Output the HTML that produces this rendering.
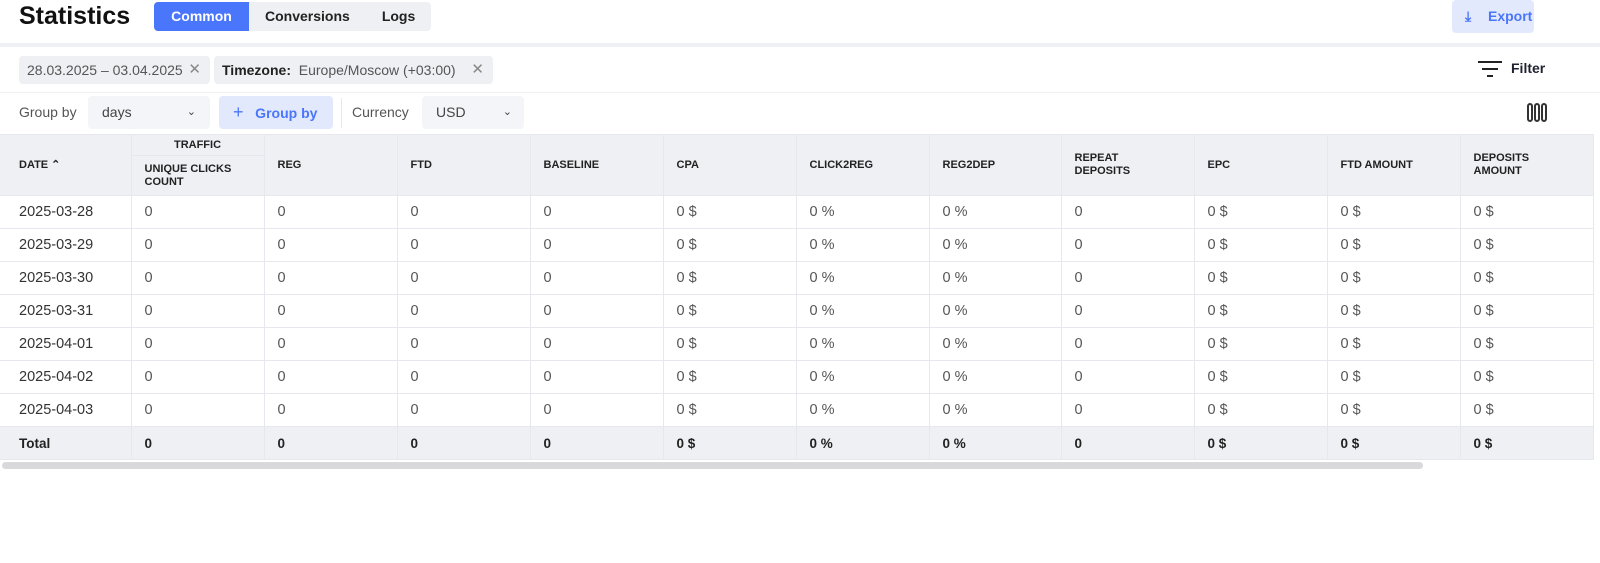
<!DOCTYPE html>
<html><head><meta charset="utf-8"><style>
*{box-sizing:border-box;margin:0;padding:0}
body{width:1600px;height:563px;background:#fff;font-family:"Liberation Sans",sans-serif;color:#1f2230;position:relative;overflow:hidden}
.abs{position:absolute}
.title{left:19px;top:2px;font-size:25px;font-weight:bold;color:#111}
.tabs{left:154px;top:2px;height:29px;display:flex;background:#eef0f4;border-radius:4px;overflow:hidden;font-size:14px;font-weight:bold}
.tabs div{padding:0 16px;line-height:29px;color:#222}
.tabs .on{background:#4a76fb;color:#fff;width:95px;text-align:center;padding:0}
.export{left:1452px;top:0;width:82px;height:33px;background:#e3e9fd;border-radius:4px;color:#4a76fb;font-size:14px;font-weight:bold;line-height:33px;padding-left:36px}
.band{left:0;top:43px;width:1600px;height:4px;background:#eef0f5}
.chip{top:56px;height:28px;background:#eef0f4;border-radius:4px;font-size:14px;line-height:28px;padding-left:8px;color:#555}
.x{color:#888;position:absolute;right:9px;top:0;font-size:15px}
.sep{left:0;top:92px;width:1600px;height:1px;background:#f0f1f4}
.lbl{font-size:14px;color:#555;line-height:33px;top:96px}
.sel{top:96px;height:33px;background:#f4f5f8;border-radius:4px;font-size:14px;line-height:33px;padding-left:14px;color:#444}
table{position:absolute;left:0;top:134px;border-collapse:collapse;table-layout:fixed;width:1593px;font-size:14.5px}
td,th{border:1px solid #e6e8ee;text-align:left;padding-left:13px;font-weight:normal;color:#555}
th{background:#eef0f4;font-size:11px;font-weight:bold;color:#222;line-height:13px}
tr.r td{height:33px}
tr.r td:first-child{padding-left:19px;color:#333}
tr.t td{background:#eef0f4;font-weight:bold;color:#222;height:33px;font-size:13.5px}
tr.t td:first-child{padding-left:19px}
td:first-child,th:first-child{border-left:none}
</style></head><body>
<div class="abs title">Statistics</div>
<div class="abs tabs"><div class="on">Common</div><div>Conversions</div><div>Logs</div></div>
<div class="abs export"><span style="position:absolute;left:13px;top:0">⤓</span>Export</div>
<div class="abs band"></div>
<div class="abs chip" style="left:19px;width:191px">28.03.2025 – 03.04.2025<span class="x">✕</span></div>
<div class="abs chip" style="left:214px;width:279px"><b style="color:#222">Timezone:</b>&nbsp; Europe/Moscow (+03:00)<span class="x">✕</span></div>
<div class="abs" style="left:1478px;top:60px;width:24px;height:20px">
<div class="abs" style="left:0;top:1px;width:24px;height:2px;background:#222"></div>
<div class="abs" style="left:4px;top:8px;width:16px;height:2px;background:#222"></div>
<div class="abs" style="left:9px;top:15px;width:6px;height:2px;background:#222"></div></div>
<div class="abs" style="left:1511px;top:60px;font-size:14px;font-weight:bold">Filter</div>
<div class="abs sep"></div>
<div class="abs lbl" style="left:19px">Group by</div>
<div class="abs sel" style="left:88px;width:122px">days<span class="abs" style="right:14px;top:0;font-size:11px">&#8964;</span></div>
<div class="abs" style="left:219px;top:96px;width:114px;height:33px;background:#e3e9fd;border-radius:4px;color:#4a76fb;font-size:14px;font-weight:bold;line-height:33px;padding-left:14px"><span style="font-size:18px;font-weight:normal">+</span>&nbsp;&nbsp; Group by</div>
<div class="abs" style="left:341px;top:98px;width:1px;height:30px;background:#e6e8ee"></div>
<div class="abs lbl" style="left:352px">Currency</div>
<div class="abs sel" style="left:422px;width:102px">USD<span class="abs" style="right:12px;top:0;font-size:11px">&#8964;</span></div>
<div class="abs" style="left:1527px;top:103px;display:flex;gap:1px">
<div style="width:6px;height:19px;border:2px solid #333;border-radius:3px"></div><div style="width:6px;height:19px;border:2px solid #333;border-radius:3px"></div><div style="width:6px;height:19px;border:2px solid #333;border-radius:3px"></div></div>
<table>
<colgroup><col style="width:131px"><col style="width:133px"><col style="width:133px"><col style="width:133px"><col style="width:133px"><col style="width:133px"><col style="width:133px"><col style="width:132px"><col style="width:133px"><col style="width:133px"><col style="width:133px"><col style="width:133px"></colgroup>
<tr><th rowspan="2" style="padding-left:19px">DATE &#8963;</th><th style="height:21px;text-align:center;padding:0">TRAFFIC</th><th rowspan="2">REG</th><th rowspan="2">FTD</th><th rowspan="2">BASELINE</th><th rowspan="2">CPA</th><th rowspan="2">CLICK2REG</th><th rowspan="2">REG2DEP</th><th rowspan="2">REPEAT<br>DEPOSITS</th><th rowspan="2">EPC</th><th rowspan="2">FTD AMOUNT</th><th rowspan="2">DEPOSITS<br>AMOUNT</th></tr>
<tr><th style="height:40px">UNIQUE CLICKS<br>COUNT</th></tr>
<tr class="r"><td>2025-03-28</td><td>0</td><td>0</td><td>0</td><td>0</td><td>0 $</td><td>0 %</td><td>0 %</td><td>0</td><td>0 $</td><td>0 $</td><td>0 $</td></tr>
<tr class="r"><td>2025-03-29</td><td>0</td><td>0</td><td>0</td><td>0</td><td>0 $</td><td>0 %</td><td>0 %</td><td>0</td><td>0 $</td><td>0 $</td><td>0 $</td></tr>
<tr class="r"><td>2025-03-30</td><td>0</td><td>0</td><td>0</td><td>0</td><td>0 $</td><td>0 %</td><td>0 %</td><td>0</td><td>0 $</td><td>0 $</td><td>0 $</td></tr>
<tr class="r"><td>2025-03-31</td><td>0</td><td>0</td><td>0</td><td>0</td><td>0 $</td><td>0 %</td><td>0 %</td><td>0</td><td>0 $</td><td>0 $</td><td>0 $</td></tr>
<tr class="r"><td>2025-04-01</td><td>0</td><td>0</td><td>0</td><td>0</td><td>0 $</td><td>0 %</td><td>0 %</td><td>0</td><td>0 $</td><td>0 $</td><td>0 $</td></tr>
<tr class="r"><td>2025-04-02</td><td>0</td><td>0</td><td>0</td><td>0</td><td>0 $</td><td>0 %</td><td>0 %</td><td>0</td><td>0 $</td><td>0 $</td><td>0 $</td></tr>
<tr class="r"><td>2025-04-03</td><td>0</td><td>0</td><td>0</td><td>0</td><td>0 $</td><td>0 %</td><td>0 %</td><td>0</td><td>0 $</td><td>0 $</td><td>0 $</td></tr>
<tr class="t"><td>Total</td><td>0</td><td>0</td><td>0</td><td>0</td><td>0 $</td><td>0 %</td><td>0 %</td><td>0</td><td>0 $</td><td>0 $</td><td>0 $</td></tr>
</table>
<div class="abs" style="left:2px;top:462px;width:1421px;height:7px;background:#d9d9dc;border-radius:4px"></div>
</body></html>
